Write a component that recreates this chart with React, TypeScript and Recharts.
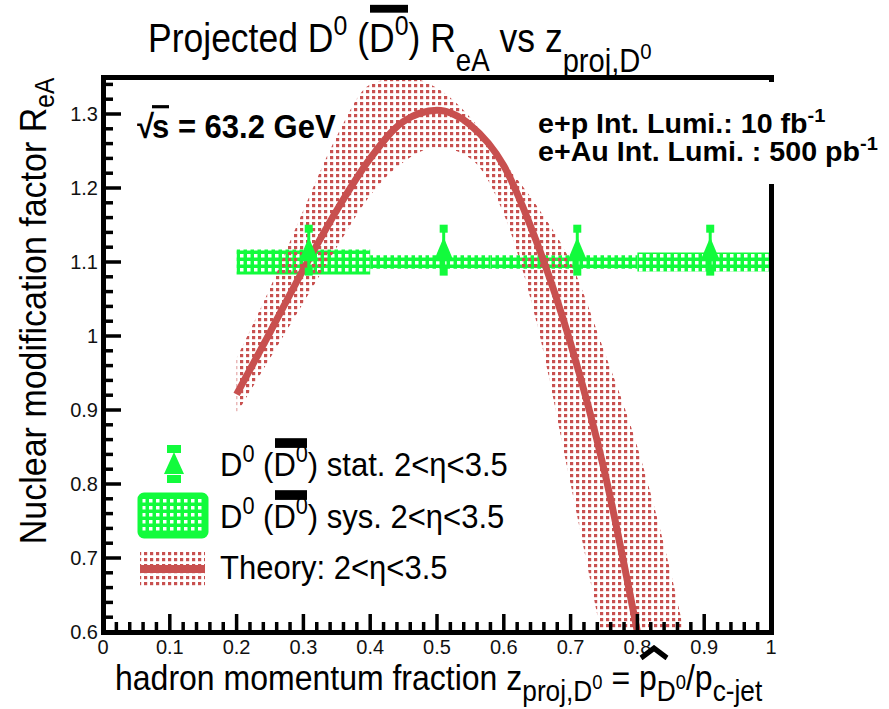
import React from "react"
import {
  Area,
  ComposedChart,
  ErrorBar,
  Line,
  ReferenceArea,
  Scatter,
  XAxis,
  YAxis,
} from "recharts"

// theory curve (central value and band edges) vs z
const theoryZ = [0.2, 0.25, 0.3, 0.35, 0.4, 0.45, 0.5, 0.55, 0.6, 0.65, 0.7, 0.75, 0.8, 0.85, 0.9]
const theoryCentral = [0.921, 1.005, 1.09, 1.17, 1.24, 1.29, 1.305, 1.285, 1.23, 1.125, 0.99, 0.82, 0.6, null, null]
const theoryUpper = [0.97, 1.065, 1.17, 1.27, 1.34, 1.35, 1.335, 1.295, 1.235, 1.175, 1.1, 0.98, 0.85, 0.68, 0.47]
const theoryLower = [0.895, 0.97, 1.045, 1.12, 1.19, 1.235, 1.255, 1.24, 1.165, 1.015, 0.8, 0.578, 0.35, 0.1, -0.15]

// projected D0 points (stat.)
const statZ = [0.308, 0.51, 0.71, 0.909]
const statR = [1.116, 1.116, 1.116, 1.116]
const statErr = [0.029, 0.029, 0.029, 0.029]

// systematic boxes
const sysZLow = [0.2, 0.4, 0.58, 0.8]
const sysZHigh = [0.4, 0.58, 0.8, 1.0]
const sysR = [1.1, 1.1, 1.1, 1.1]
const sysErr = [0.017, 0.009, 0.009, 0.013]

const xMajorTicks = [0, 0.1, 0.2, 0.3, 0.4, 0.5, 0.6, 0.7, 0.8, 0.9, 1]
const xTickLabels = ["0", "0.1", "0.2", "0.3", "0.4", "0.5", "0.6", "0.7", "0.8", "0.9", "1"]
const yMajorTicks = [0.6, 0.7, 0.8, 0.9, 1, 1.1, 1.2, 1.3]
const yTickLabels = ["0.6", "0.7", "0.8", "0.9", "1", "1.1", "1.2", "1.3"]

const xAllTicks = Array.from({ length: 51 }, (_, i) => +(i * 0.02).toFixed(2))
const yAllTicks = Array.from({ length: 38 }, (_, i) => +(0.6 + i * 0.02).toFixed(2))

const RED = "#c8504f"
const GREEN = "#12fb3c"
const FONT = "'Liberation Sans', Arial, Helvetica, sans-serif"

// plot frame (pixels) used by chart margins and the frame overlay
const PLOT = { left: 103, top: 77, right: 771, bottom: 632 }
const LW = 5

const theoryData = theoryZ.map((z, i) => ({
  z,
  central: theoryCentral[i],
  band: [theoryLower[i], theoryUpper[i]],
}))
const statData = statZ.map((z, i) => ({ z, r: statR[i], err: statErr[i] }))
const capTop = statZ.map((z, i) => ({ z, r: statR[i] + statErr[i] }))
const capBottom = statZ.map((z, i) => ({ z, r: statR[i] - statErr[i] }))

const findMajor = (list: number[], v: number) =>
  list.findIndex((t) => Math.abs(t - v) < 1e-6)

function XTick(props: any) {
  const { x, y, payload } = props
  const idx = findMajor(xMajorTicks, payload.value)
  const major = idx >= 0
  return (
    <g>
      <line x1={x} x2={x} y1={y} y2={y - (major ? 18 : 10)} stroke="#000" strokeWidth={3.5} />
      {major && (
        <text x={x} y={y + 22} textAnchor="middle" fontSize={20} fontFamily={FONT} fill="#111">
          {xTickLabels[idx]}
        </text>
      )}
    </g>
  )
}

function YTick(props: any) {
  const { x, y, payload } = props
  const idx = findMajor(yMajorTicks, payload.value)
  const major = idx >= 0
  return (
    <g>
      <line x1={x} x2={x + (major ? 18 : 10)} y1={y} y2={y} stroke="#000" strokeWidth={3.5} />
      {major && (
        <text x={x - 5} y={y + 7} textAnchor="end" fontSize={20} fontFamily={FONT} fill="#111">
          {yTickLabels[idx]}
        </text>
      )}
    </g>
  )
}

const Triangle = (p: any) => (
  <polygon
    points={`${p.cx},${p.cy - 13} ${p.cx - 10},${p.cy + 11} ${p.cx + 10},${p.cy + 11}`}
    fill={GREEN}
  />
)
const Cap = (p: any) => <rect x={p.cx - 4} y={p.cy - 4} width={8} height={8} fill={GREEN} />

function Txt({ left, base, size, bold, sx = 1, sy = 1.1, children, style }: any) {
  const asc = 0.846 * size
  return (
    <div
      style={{
        position: "absolute",
        left,
        top: base - asc,
        fontSize: size,
        lineHeight: 1,
        fontWeight: bold ? 700 : 400,
        whiteSpace: "nowrap",
        transform: `scale(${sx}, ${sy})`,
        transformOrigin: `0 ${asc}px`,
        color: "#000",
        ...style,
      }}
    >
      {children}
    </div>
  )
}

const Sup = ({ children }: any) => (
  <span style={{ fontSize: "0.7em", position: "relative", top: "-0.6em" }}>{children}</span>
)
const Sub = ({ children, drop = 0.45, size = 0.72 }: any) => (
  <span style={{ fontSize: `${size}em`, position: "relative", top: `${drop}em` }}>{children}</span>
)
const SupZero = () => (
  <span style={{ fontSize: "0.7em", position: "relative", top: "-0.6em" }}>0</span>
)
const OverBar = ({ children, off = -0.36, thick = 0.2 }: any) => (
  <span style={{ position: "relative", display: "inline-block" }}>
    <span
      style={{
        position: "absolute",
        left: "0.04em",
        right: "0.02em",
        top: `${off}em`,
        height: `${thick}em`,
        background: "#000",
      }}
    />
    {children}
  </span>
)

const Edge = ({ left, top, width, height }: any) => (
  <div style={{ position: "absolute", left, top, width, height, background: "#000" }} />
)

function Legend() {
  return (
    <>
      <svg width={889} height={709} style={{ position: "absolute", left: 0, top: 0, pointerEvents: "none" }}>
        <defs>
          <pattern id="lg-green" width={7} height={7} patternUnits="userSpaceOnUse">
            <rect width={7} height={7} fill={GREEN} />
            <rect x={2} y={2} width={3.5} height={3.5} fill="#fff" />
          </pattern>
          <pattern id="lg-red" width={6} height={6} patternUnits="userSpaceOnUse">
            <rect width={3.2} height={3.2} fill={RED} />
          </pattern>
        </defs>
        <rect x={167} y={445} width={14} height={8} fill={GREEN} />
        <polygon points="174,452 164,474 184,474" fill={GREEN} />
        <rect x={167} y={475} width={14} height={8} fill={GREEN} />
        <rect x={140} y={495} width={66} height={41} rx={4} fill="url(#lg-green)" stroke={GREEN} strokeWidth={5} />
        <rect x={140} y={552} width={65} height={36} fill="url(#lg-red)" />
        <line x1={140} x2={205} y1={569} y2={569} stroke={RED} strokeWidth={8} />
      </svg>
      <Txt left={220} base={476} size={31} sy={1.08}>
        D<Sup>0</Sup> (<OverBar off={-0.28} thick={0.28}>D<Sup>0</Sup></OverBar>) stat. 2&lt;η&lt;3.5
      </Txt>
      <Txt left={220} base={528} size={31} sy={1.08}>
        D<Sup>0</Sup> (<OverBar off={-0.28} thick={0.28}>D<Sup>0</Sup></OverBar>) sys. 2&lt;η&lt;3.5
      </Txt>
      <Txt left={220} base={579} size={31} sy={1.08}>
        Theory: 2&lt;η&lt;3.5
      </Txt>
    </>
  )
}

export default function App() {
  const h = LW / 2
  return (
    <div
      style={{
        position: "absolute",
        left: 0,
        top: 0,
        width: 889,
        height: 709,
        background: "#fff",
        fontFamily: FONT,
      }}
    >
      <ComposedChart
        width={889}
        height={709}
        data={theoryData}
        margin={{ top: PLOT.top, right: 889 - PLOT.right, bottom: 0, left: 0 }}
      >
        <defs>
          <pattern id="p-red" width={6} height={6} patternUnits="userSpaceOnUse">
            <rect width={3.2} height={3.2} fill={RED} />
          </pattern>
          <pattern id="p-green" width={7} height={7} patternUnits="userSpaceOnUse">
            <rect width={7} height={7} fill={GREEN} />
            <rect x={2} y={2} width={3.5} height={3.5} fill="#fff" />
          </pattern>
        </defs>
        <XAxis
          dataKey="z"
          type="number"
          domain={[0, 1]}
          ticks={xAllTicks}
          interval={0}
          height={709 - PLOT.bottom}
          tickSize={0}
          tickMargin={0}
          tickLine={false}
          axisLine={false}
          tick={(p: any) => <XTick {...p} />}
        />
        <YAxis
          type="number"
          domain={[0.6, 1.35]}
          allowDataOverflow
          ticks={yAllTicks}
          interval={0}
          width={PLOT.left}
          tickSize={0}
          tickMargin={0}
          tickLine={false}
          axisLine={false}
          tick={(p: any) => <YTick {...p} />}
        />
        {sysZLow.map((lo, i) => (
          <ReferenceArea
            key={i}
            x1={lo}
            x2={sysZHigh[i]}
            y1={sysR[i] - sysErr[i]}
            y2={sysR[i] + sysErr[i]}
            fill="url(#p-green)"
            fillOpacity={1}
            stroke="none"
          />
        ))}
        <Area
          dataKey="band"
          type="monotone"
          stroke="none"
          fill="url(#p-red)"
          fillOpacity={1}
          isAnimationActive={false}
          dot={false}
          activeDot={false}
        />
        <Line
          dataKey="central"
          type="monotone"
          stroke={RED}
          strokeWidth={7}
          dot={false}
          activeDot={false}
          isAnimationActive={false}
        />
        <Scatter data={statData} dataKey="r" shape={Triangle} isAnimationActive={false}>
          <ErrorBar dataKey="err" direction="y" width={0} strokeWidth={3} stroke={GREEN} isAnimationActive={false} />
        </Scatter>
        <Scatter data={capTop} dataKey="r" shape={Cap} isAnimationActive={false} />
        <Scatter data={capBottom} dataKey="r" shape={Cap} isAnimationActive={false} />
      </ComposedChart>

      {/* title */}
      <Txt left={148} base={53} size={35.5} sy={1.12}>
        Projected D<Sup>0</Sup> (<OverBar off={-0.38} thick={0.2}>D<Sup>0</Sup></OverBar>) R
        <Sub drop={0.62} size={0.78}>eA</Sub> vs z
        <Sub drop={0.62} size={0.82}>
          proj,D<SupZero />
        </Sub>
      </Txt>

      {/* y axis title */}
      <div
        style={{
          position: "absolute",
          left: 33,
          top: 311,
          fontSize: 34,
          lineHeight: 1,
          whiteSpace: "nowrap",
          transform: "translate(-50%, -50%) rotate(-90deg) scaleY(1.1)",
        }}
      >
        Nuclear modification factor R<Sub drop={0.3}>eA</Sub>
      </div>

      {/* x axis title */}
      <Txt left={115} base={690} size={32} sy={1.1}>
        hadron momentum fraction z
        <Sub drop={0.4} size={0.82}>
          proj,D<SupZero />
        </Sub>{" "}
        ={" "}
        <span style={{ position: "relative", display: "inline-block" }}>
          <svg width={30} height={14} style={{ position: "absolute", left: 0, top: -14 }}>
            <polyline points="2,12 15,3 28,12" fill="none" stroke="#000" strokeWidth={5} />
          </svg>
          p
        </span>
        <Sub drop={0.4} size={0.82}>
          D<SupZero />
        </Sub>
        /p<Sub drop={0.4} size={0.82}>c-jet</Sub>
      </Txt>

      {/* annotations */}
      <Txt left={137} base={138} size={31} bold sy={1.06}>
        √<span style={{ borderTop: "3px solid #000", marginLeft: -2 }}>s</span> = 63.2 GeV
      </Txt>

      <Legend />

      {/* frame */}
      <Edge left={PLOT.left - h} top={PLOT.top - h} width={PLOT.right - PLOT.left + LW} height={LW} />
      <Edge left={PLOT.left - h} top={PLOT.bottom - h} width={PLOT.right - PLOT.left + LW} height={LW} />
      <Edge left={PLOT.left - h} top={PLOT.top - h} width={LW} height={PLOT.bottom - PLOT.top + LW} />
      <Edge left={PLOT.right - h} top={PLOT.top - h} width={LW} height={PLOT.bottom - PLOT.top + LW} />

      {/* luminosity box, drawn over the right frame edge */}
      <div
        style={{
          position: "absolute",
          left: 532,
          top: 82,
          width: 357,
          height: 102,
          background: "#fff",
        }}
      />
      <Txt left={538} base={134} size={27} bold sx={1.06} sy={1.0}>
        e+p Int. Lumi.: 10 fb<Sup>-1</Sup>
      </Txt>
      <Txt left={538} base={162} size={27} bold sx={1.06} sy={1.0}>
        e+Au Int. Lumi. : 500 pb<Sup>-1</Sup>
      </Txt>
    </div>
  )
}
